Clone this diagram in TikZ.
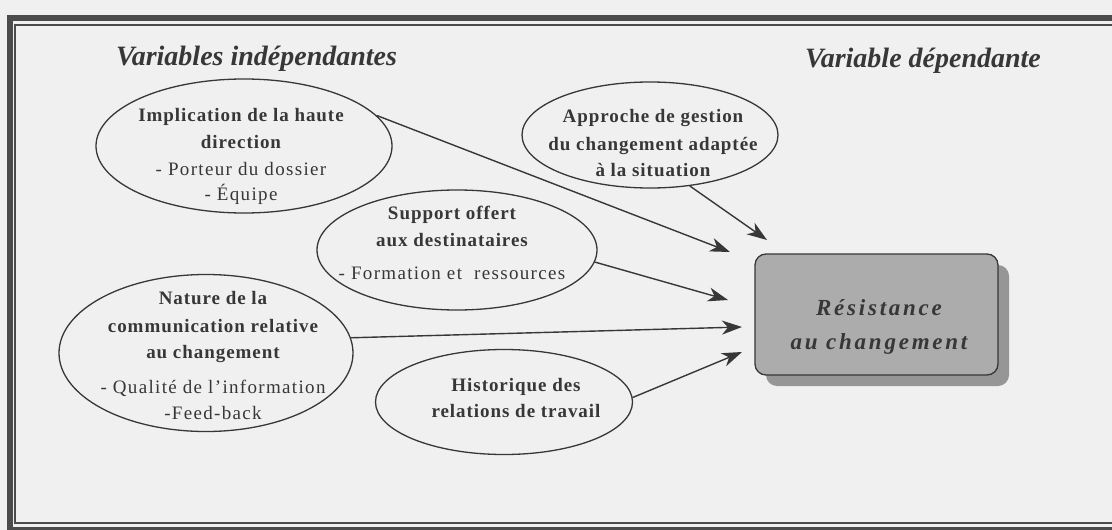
\documentclass[tikz,border=0pt]{standalone}
\usepackage{fontspec}
\setmainfont{Liberation Serif}
\newfontfamily\ellrf{Liberation Serif}[LetterSpace=7]
\newfontfamily\ellbf{Liberation Serif}[LetterSpace=5]
\newfontfamily\boxf{Liberation Serif}[LetterSpace=12]
\newcommand\ellr{\ellrf\mdseries\upshape}
\newcommand\ellb{\ellbf\bfseries\upshape}
\usetikzlibrary{arrows.meta,shapes.geometric,shadows}
\definecolor{bgc}{RGB}{240,240,240}
\definecolor{inkc}{RGB}{55,55,55}
\definecolor{framec}{RGB}{75,75,75}
\definecolor{boxc}{RGB}{172,172,172}
\definecolor{shadc}{RGB}{150,150,150}
\begin{document}
\begin{tikzpicture}[x=1pt,y=-1pt,
  ell/.style={draw=inkc, ellipse, line width=1.3pt, inner sep=0pt},
  txt/.style={anchor=north, align=center, inner sep=0pt, text=inkc, font={\fontsize{19}{26}\selectfont}},
  arr/.style={draw=inkc, line width=1.4pt, -{Stealth[length=20pt,width=14pt,inset=6pt]}},
  title/.style={anchor=base west, inner sep=0pt, text=inkc, font={\fontsize{28}{30}\selectfont\bfseries\itshape}}
]
\useasboundingbox (0,0) rectangle (1112,530);
\fill[bgc] (0,0) rectangle (1112,530);
\begin{scope}
\clip (0,0) rectangle (1112,530);
\draw[framec, line width=6pt] (9.5,18.3) rectangle (1130,529.5);
\draw[framec, line width=2pt] (15.2,24.7) rectangle (1130,522.7);
\end{scope}

\node[title] (tl) at (116,65) {Variables indépendantes};
\node[title] (tr) at (805,67) {Variable dépendante};

\node[ell, minimum width=296pt, minimum height=134pt] (impl) at (244,146) {};
\node[ell, minimum width=280pt, minimum height=120pt] (supp) at (457,250) {};
\node[ell, minimum width=294pt, minimum height=157pt] (nat) at (206,353) {};
\node[ell, minimum width=256pt, minimum height=106pt] (appr) at (650,135) {};
\node[ell, minimum width=257pt, minimum height=105pt] (hist) at (504,402) {};

\node[txt] (impl-t) at (241,101) {\ellb\rule{0pt}{20pt}Implication de la haute\\[1pt]\ellb direction\\[1pt]\ellr - Porteur du dossier\\[-1pt]\ellr - Équipe};
\node[txt] (supp-t) at (452,199) {\ellb\rule{0pt}{20pt}Support offert\\[1pt]\ellb aux destinataires\\[7pt]\ellr - Formation et\ \ ressources};
\node[txt] (nat-t) at (213,284) {\ellb\rule{0pt}{20pt}Nature de la\\[2pt]\ellb communication relative\\\ellb au changement\\[9pt]\ellr - Qualité de l’information\\\ellr -Feed-back};
\node[txt] (appr-t) at (653,102) {\ellb\rule{0pt}{20pt}Approche de gestion\\[2pt]\ellb du changement adaptée\\\ellb à la situation};
\node[txt] (hist-t) at (516,371) {\ellb\rule{0pt}{20pt}Historique des\\\ellb relations de travail};

\node[draw=inkc, line width=1.3pt, fill=boxc, rounded corners=11pt, minimum width=243pt, minimum height=121pt, drop shadow={shadow xshift=11pt, shadow yshift=-11pt, fill=shadc, opacity=1}] (res) at (876.5,314.5) {};
\node[anchor=north, align=center, inner sep=0pt, text=inkc, font={\fontsize{23}{34}\selectfont}] (res-t) at (879,291) {\boxf\bfseries\itshape\rule{0pt}{24pt}Résistance\\\boxf\bfseries\itshape au changement};

\coordinate (t1) at (730,252);
\coordinate (t2) at (767,240);
\coordinate (t3) at (728,300);
\coordinate (t4) at (742,327);
\coordinate (t5) at (742,352);
\draw[arr] (impl.13) -- (t1);
\draw[arr] (appr.-52) -- (t2);
\draw[arr] (supp.-5) -- (t3);
\draw[arr] (nat.6) -- (t4);
\draw[arr] (hist.2) -- (t5);
\end{tikzpicture}
\end{document}
